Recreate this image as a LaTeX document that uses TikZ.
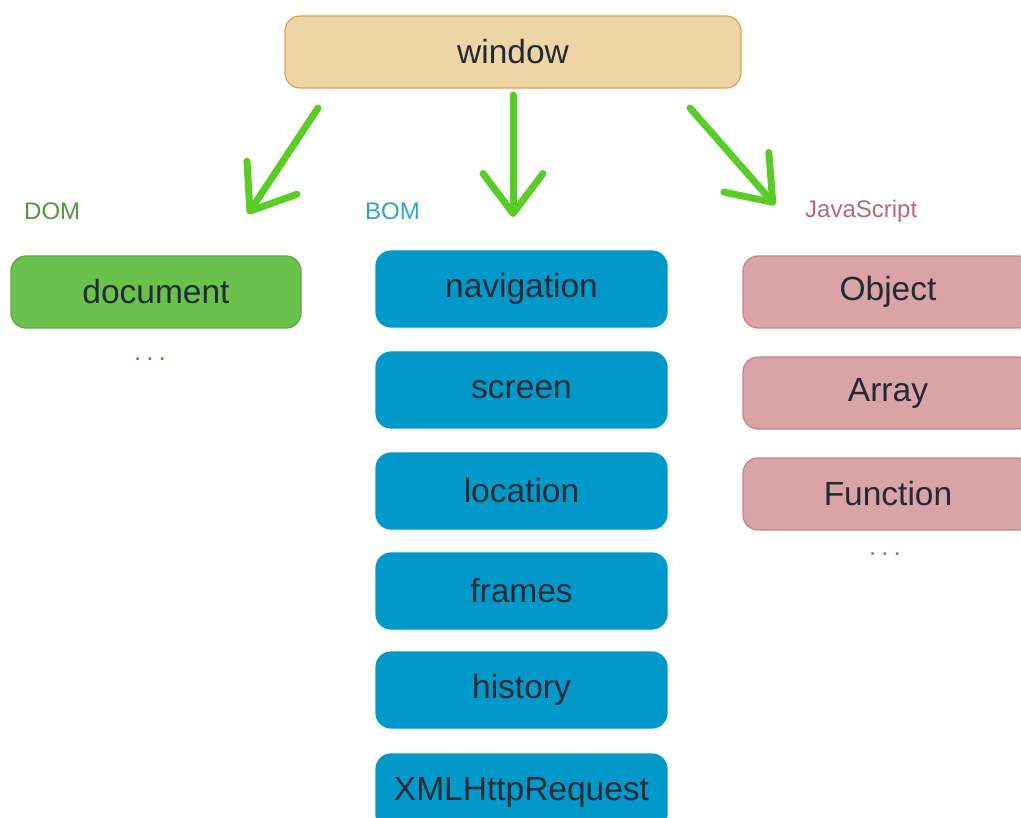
\documentclass[tikz,border=0pt]{standalone}
\usepackage{fontspec}
\setmainfont{Liberation Sans}
\usetikzlibrary{arrows.meta}
\definecolor{winfill}{HTML}{EDD5A6}
\definecolor{winborder}{HTML}{D6A64A}
\definecolor{domfill}{HTML}{6AC24C}
\definecolor{domborder}{HTML}{58A83E}
\definecolor{domtext}{HTML}{4F9A3C}
\definecolor{bomfill}{HTML}{0099C9}
\definecolor{bomtext}{HTML}{2CA4CE}
\definecolor{jsfill}{HTML}{DAA3A6}
\definecolor{jsborder}{HTML}{C48587}
\definecolor{jstext}{HTML}{B86A72}
\definecolor{ink}{HTML}{222A36}
\definecolor{arrowgreen}{HTML}{5ACC26}
\newcommand{\spacedots}{.\hspace{5pt}.\hspace{5pt}.}
\tikzset{
  box/.style={rounded corners=15pt, inner sep=0pt, text=ink,
    font=\fontsize{33.5}{36}\selectfont, line width=1.2pt},
  winbox/.style={box, draw=winborder, fill=winfill, minimum width=456pt, minimum height=72pt},
  dombox/.style={box, draw=domborder, fill=domfill, minimum width=290pt, minimum height=72pt},
  bombox/.style={box, draw=bomfill, fill=bomfill, minimum width=291pt, minimum height=76pt},
  jsbox/.style={box, draw=jsborder, fill=jsfill, minimum width=290pt, minimum height=72pt},
  grouplabel/.style={inner sep=0pt, font=\fontsize{24}{26}\selectfont},
  dots/.style={inner sep=0pt, font=\fontsize{26}{28}\selectfont},
  bigarrow/.style={draw=arrowgreen, line width=7pt, line cap=round, line join=round,
    -{Straight Barb[length=40pt, width=60pt, line cap=round, line join=round]}}
}
\begin{document}
\begin{tikzpicture}[x=1pt, y=-1pt]
\useasboundingbox (0,0) rectangle (1021,818);
\clip (0,0) rectangle (1021,818);

\node[winbox] (window) at (513,52) {window};

\node[grouplabel, text=domtext, anchor=west] (domlabel) at (24,211) {DOM};
\node[grouplabel, text=bomtext, anchor=west] (bomlabel) at (365,211) {BOM};
\node[grouplabel, text=jstext, anchor=west] (jslabel) at (805,211) {JavaScript};

\node[dombox] (document) at (156,292) {document};
\node[dots, text=domtext] (domdots) at (150,359) {\spacedots};

\node[bombox] (navigation) at (521.5,289) {navigation};
\node[bombox] (screen) at (521.5,390) {screen};
\node[bombox] (location) at (521.5,491) {location};
\node[bombox] (frames) at (521.5,591) {frames};
\node[bombox] (history) at (521.5,690) {history};
\node[bombox] (xhr) at (521.5,792) {XMLHttpRequest};

\node[jsbox] (object) at (888,292) {Object};
\node[jsbox] (array) at (888,393) {Array};
\node[jsbox] (function) at (888,494) {Function};
\node[dots, text=jstext] (jsdots) at (885,554) {\spacedots};

\coordinate (a1s) at (318,108);
\coordinate (a1e) at (248,214);
\coordinate (a2s) at (513,95);
\coordinate (a2e) at (513,217);
\coordinate (a3s) at (690,108);
\coordinate (a3e) at (775,205);

\draw[bigarrow] (a1s) -- (a1e);
\draw[bigarrow] (a2s) -- (a2e);
\draw[bigarrow] (a3s) -- (a3e);
\end{tikzpicture}
\end{document}
